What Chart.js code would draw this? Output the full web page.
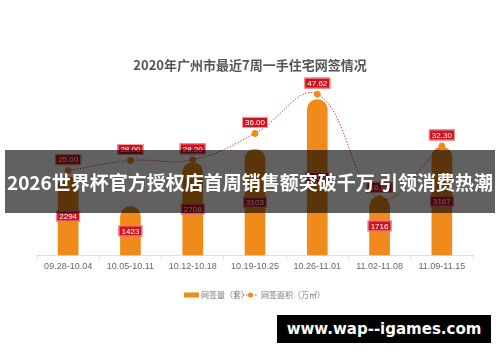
<!DOCTYPE html>
<html lang="zh">
<head>
<meta charset="UTF-8">
<title>2020年广州市最近7周一手住宅网签情况</title>
<script src="https://cdn.jsdelivr.net/npm/chart.js"></script>
<style>
    html, body { margin: 0; padding: 0; background: #fff; }
    #wrap { position: relative; width: 500px; height: 362px; overflow: hidden; }
    #banner {
        position: absolute; left: 5px; top: 150px; width: 490px; height: 63px;
        background: rgba(0, 0, 0, 0.62); color: #fff;
        font: bold 19px "Noto Sans CJK SC", "Noto Sans", sans-serif;
        display: flex; align-items: center; justify-content: center; white-space: nowrap;
    }
    #site {
        position: absolute; left: 277px; top: 315px; width: 214px; height: 28px;
        background: #000; color: #fff;
        font: bold 15px "DejaVu Sans", sans-serif;
        display: flex; align-items: center; justify-content: center;
    }
</style>
</head>
<body>
<div id="wrap">
    <canvas id="chart" width="500" height="362"></canvas>
    <div id="banner">2026世界杯官方授权店首周销售额突破千万 引领消费热潮</div>
    <div id="site">www.wap--igames.com</div>
</div>
<script>
const weeks = ['09.28-10.04', '10.05-10.11', '10.12-10.18', '10.19-10.25', '10.26-11.01', '11.02-11.08', '11.09-11.15'];
const units = [2294, 1423, 2708, 3103, 4558, 1716, 3167];      // 网签量（套）
const area = [25.00, 28.00, 28.20, 36.00, 47.62, 16.80, 32.30]; // 网签面积（万㎡）

const title = '2020年广州市最近7周一手住宅网签情况';
const barName = '网签量（套）';
const lineName = '网签面积（万㎡）';

const orange = '#f08a1a';
const red = '#e0403a';
const cjk = '"Noto Sans CJK SC", "Noto Sans", sans-serif';

function tag(ctx, text, x, y) {
    ctx.font = '8px "Liberation Sans", Arial, sans-serif';
    const w = ctx.measureText(text).width + 6;
    const h = 11;
    ctx.fillStyle = '#d0121e';
    ctx.strokeStyle = '#f4a0a4';
    ctx.lineWidth = 1;
    ctx.fillRect(x - w / 2, y - h / 2, w, h);
    ctx.strokeRect(x - w / 2 + 0.5, y - h / 2 + 0.5, w - 1, h - 1);
    ctx.fillStyle = '#fff';
    ctx.textAlign = 'center';
    ctx.textBaseline = 'middle';
    ctx.fillText(text, x, y + 0.5);
}

const extras = {
    id: 'extras',
    afterDraw(chart) {
        const ctx = chart.ctx;
        ctx.save();
        // title
        ctx.fillStyle = '#555';
        ctx.font = 'bold 13px ' + cjk;
        ctx.textAlign = 'center';
        ctx.textBaseline = 'middle';
        ctx.fillText(title, 250, 65);

        // value labels
        chart.getDatasetMeta(1).data.forEach((bar, i) => {
            tag(ctx, String(units[i]), bar.x, (bar.y + bar.base) / 2);
        });
        chart.getDatasetMeta(0).data.forEach((pt, i) => {
            tag(ctx, area[i].toFixed(2), pt.x, pt.y - 11);
        });

        // legend
        const ly = 295;
        ctx.fillStyle = orange;
        ctx.fillRect(184, ly - 2.5, 15, 5);
        ctx.fillStyle = '#777';
        ctx.font = '8px ' + cjk;
        ctx.textAlign = 'left';
        ctx.fillText(barName, 201, ly);
        ctx.strokeStyle = red;
        ctx.setLineDash([1.5, 1.5]);
        ctx.beginPath();
        ctx.moveTo(243, ly);
        ctx.lineTo(258, ly);
        ctx.stroke();
        ctx.setLineDash([]);
        ctx.fillStyle = orange;
        ctx.beginPath();
        ctx.arc(250.5, ly, 2.5, 0, Math.PI * 2);
        ctx.fill();
        ctx.fillStyle = '#777';
        ctx.fillText(lineName, 261, ly);
        ctx.restore();
    }
};

new Chart(document.getElementById('chart'), {
    data: {
        labels: weeks,
        datasets: [{
            type: 'line',
            label: lineName,
            data: area,
            yAxisID: 'yArea',
            order: 0,
            borderColor: red,
            borderWidth: 1,
            borderDash: [1.5, 1.5],
            tension: 0.4,
            pointRadius: 3,
            pointBackgroundColor: orange,
            pointBorderColor: orange,
            fill: false
        }, {
            type: 'bar',
            label: barName,
            data: units,
            yAxisID: 'yUnits',
            order: 1,
            backgroundColor: orange,
            barThickness: 20,
            borderRadius: { topLeft: 10, topRight: 10 },
            borderSkipped: 'bottom'
        }]
    },
    options: {
        responsive: false,
        animation: false,
        layout: { padding: { left: 37, right: 27, top: 80, bottom: 88 } },
        plugins: { legend: { display: false }, title: { display: false }, tooltip: { enabled: false } },
        scales: {
            x: {
                offset: true,
                grid: { display: true, drawOnChartArea: false, tickLength: 4, color: '#ddd', offset: true },
                border: { color: '#ddd' },
                ticks: { color: '#666', font: { size: 9, family: '"Liberation Sans", Arial, sans-serif' }, padding: 2, maxRotation: 0, autoSkip: false }
            },
            yUnits: { display: false, min: 0, max: 5130 },
            yArea: { display: false, min: 0, max: 51.8 }
        }
    },
    plugins: [extras]
});
</script>
</body>
</html>
